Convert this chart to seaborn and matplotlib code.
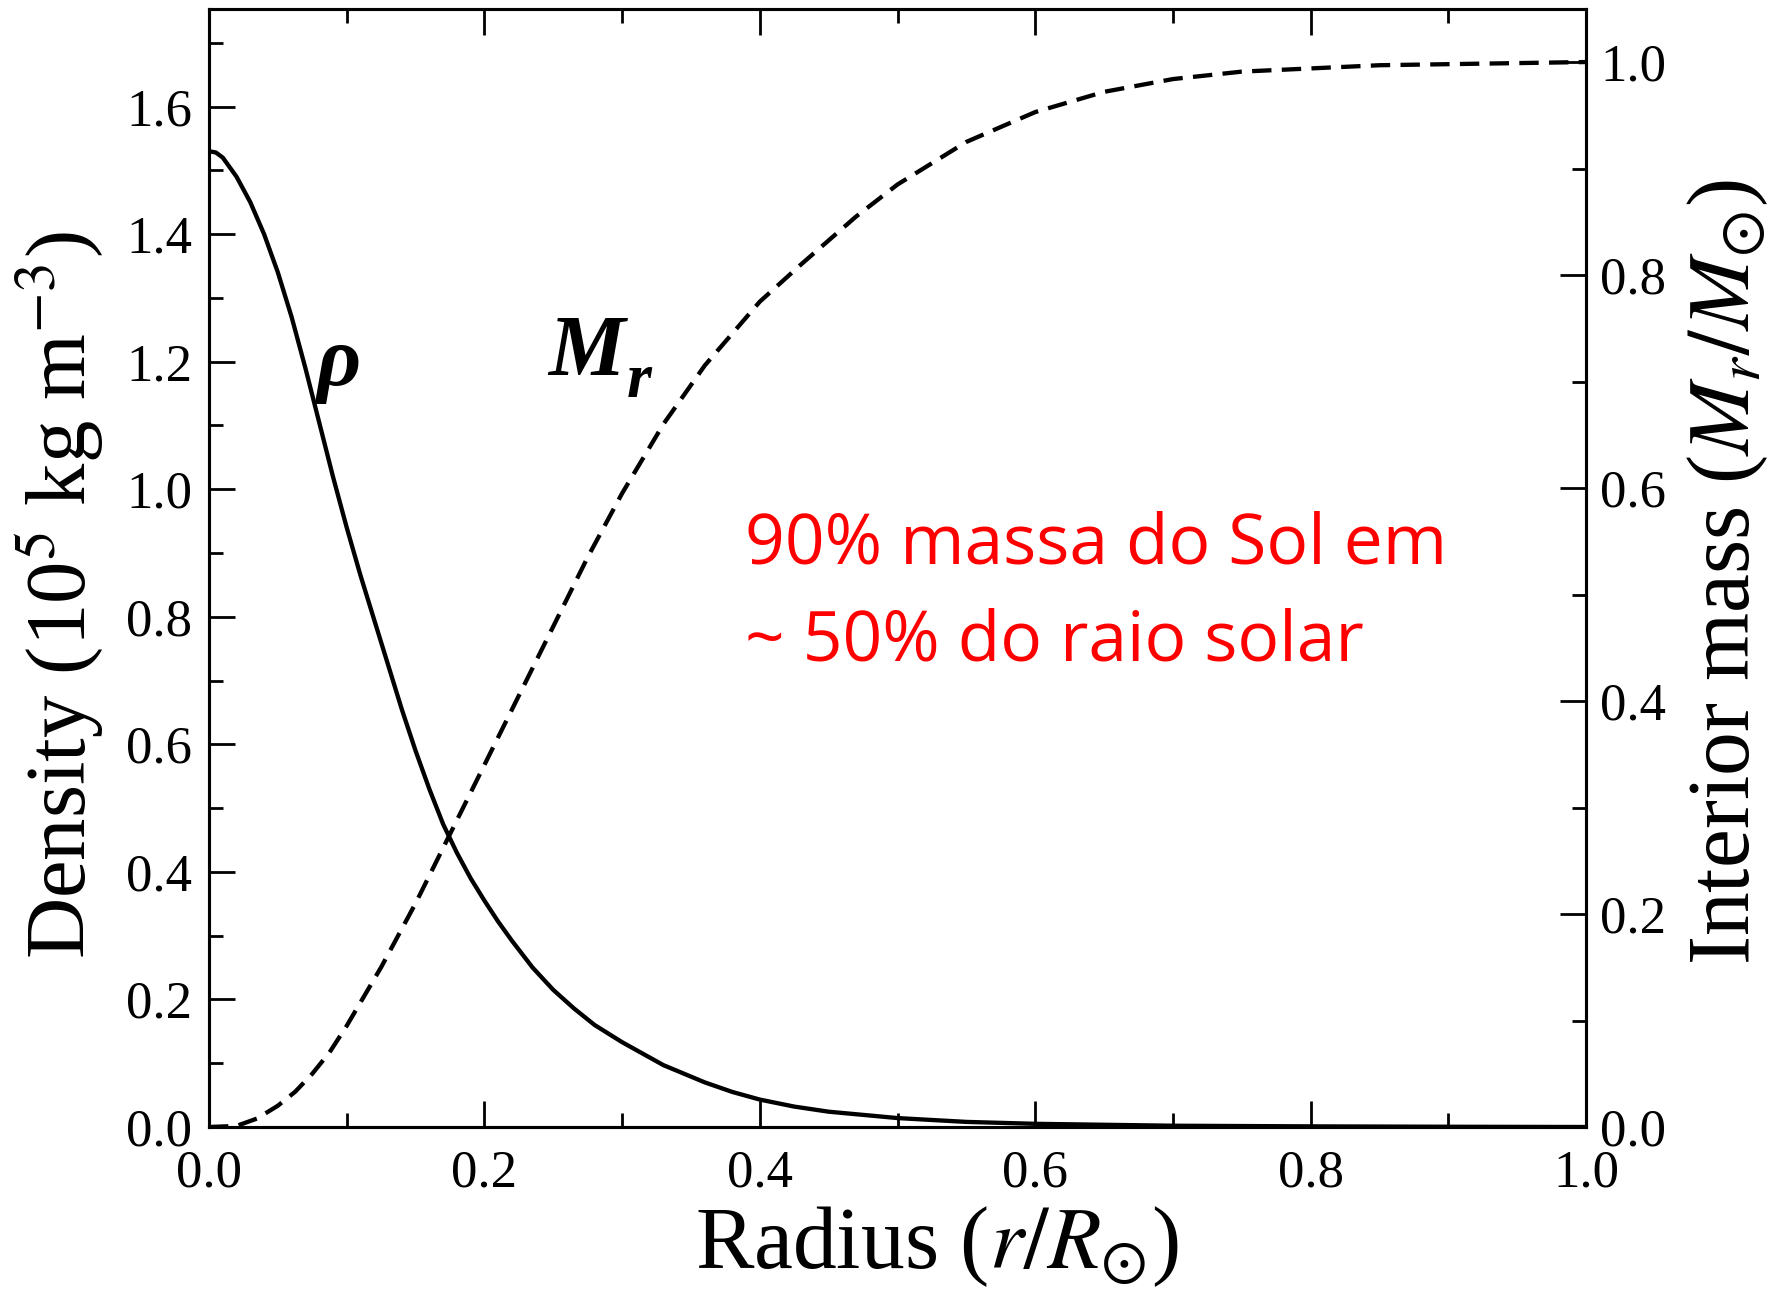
import numpy as np
import pandas as pd
import matplotlib
matplotlib.use("Agg")
import matplotlib.pyplot as plt
import seaborn as sns
from matplotlib.ticker import MultipleLocator, FormatStrFormatter

# ---- data ----
radius_rho = [0.0, 0.005, 0.01, 0.02, 0.03, 0.04, 0.05, 0.06, 0.07, 0.08, 0.09,
              0.10, 0.11, 0.12, 0.13, 0.14, 0.15, 0.16, 0.17, 0.18, 0.19, 0.20,
              0.21, 0.22, 0.235, 0.25, 0.265, 0.28, 0.30, 0.33, 0.36, 0.38,
              0.40, 0.425, 0.45, 0.50, 0.55, 0.60, 0.70, 0.80, 0.90, 1.00]
density = [1.53, 1.528, 1.52, 1.49, 1.45, 1.40, 1.34, 1.27, 1.19, 1.105, 1.02,
           0.94, 0.865, 0.795, 0.725, 0.655, 0.59, 0.53, 0.475, 0.43, 0.39, 0.355,
           0.322, 0.292, 0.25, 0.215, 0.186, 0.16, 0.133, 0.097, 0.07, 0.055,
           0.043, 0.032, 0.024, 0.014, 0.008, 0.005, 0.002, 0.001, 0.0004, 0.0]

radius_m = [0.0, 0.02, 0.035, 0.05, 0.0625, 0.075, 0.0875, 0.10, 0.125, 0.15,
            0.175, 0.20, 0.225, 0.25, 0.275, 0.30, 0.33, 0.36, 0.40, 0.43, 0.47,
            0.50, 0.55, 0.60, 0.65, 0.70, 0.75, 0.85, 1.00]
mass = [0.0, 0.001, 0.008, 0.02, 0.033, 0.05, 0.07, 0.095, 0.15, 0.21,
        0.275, 0.34, 0.405, 0.47, 0.535, 0.595, 0.66, 0.715, 0.775, 0.81, 0.855,
        0.885, 0.925, 0.953, 0.972, 0.984, 0.991, 0.997, 1.0]

left_ticks = [0.0, 0.2, 0.4, 0.6, 0.8, 1.0, 1.2, 1.4, 1.6]
right_ticks = [0.0, 0.2, 0.4, 0.6, 0.8, 1.0]
x_ticks = [0.0, 0.2, 0.4, 0.6, 0.8, 1.0]

annotation_lines = ["90% massa do Sol em", "~ 50% do raio solar"]

# ---- style ----
sns.set_theme(style="ticks")
plt.rcParams["font.family"] = ["Liberation Serif", "DejaVu Serif"]
plt.rcParams["mathtext.fontset"] = "stix"
plt.rcParams["text.color"] = "black"
plt.rcParams["axes.labelcolor"] = "black"
plt.rcParams["xtick.color"] = "black"
plt.rcParams["ytick.color"] = "black"

W, H = 1777, 1289
fig = plt.figure(figsize=(W / 100, H / 100), dpi=100)
ax_l, ax_r, ax_b, ax_t = 209, 1586, 1127, 9
ax = fig.add_axes([ax_l / W, 1 - ax_b / H, (ax_r - ax_l) / W, (ax_b - ax_t) / H])
ax2 = ax.twinx()

df_rho = pd.DataFrame({"r": radius_rho, "rho": density})
df_m = pd.DataFrame({"r": radius_m, "m": mass})

sns.lineplot(data=df_rho, x="r", y="rho", ax=ax, color="black", lw=3.1,
             sort=False, estimator=None)
sns.lineplot(data=df_m, x="r", y="m", ax=ax2, color="black", lw=3.1,
             sort=False, estimator=None, linestyle="--", dashes=False)
ax2.lines[0].set_dashes((4.5, 2.4))

ax.set_xlim(0, 1.0)
ax.set_ylim(0, 1.753)
ax2.set_ylim(0, 1.0498)

spine_w = 2.2
for a in (ax, ax2):
    for s in a.spines.values():
        s.set_linewidth(spine_w)
        s.set_color("black")

ax.set_xticks(x_ticks)
ax.set_yticks(left_ticks)
ax2.set_yticks(right_ticks)
ax.xaxis.set_minor_locator(MultipleLocator(0.1))
ax.yaxis.set_minor_locator(MultipleLocator(0.1))
ax2.yaxis.set_minor_locator(MultipleLocator(0.1))
fmt = FormatStrFormatter("%.1f")
ax.xaxis.set_major_formatter(fmt)
ax.yaxis.set_major_formatter(fmt)
ax2.yaxis.set_major_formatter(fmt)

tick_fs = 38
ax.tick_params(axis="x", which="both", direction="in", top=True, bottom=True,
               labelsize=tick_fs, pad=16, width=2.0, colors="black")
ax.tick_params(axis="y", which="both", direction="in", left=True, right=False,
               labelsize=tick_fs, pad=12, width=2.0, colors="black")
ax.tick_params(which="major", length=19)
ax.tick_params(which="minor", length=10)
ax2.tick_params(axis="y", which="both", direction="in", right=True, left=False,
                labelsize=tick_fs, pad=10, width=2.0, colors="black")
ax2.tick_params(which="major", length=19)
ax2.tick_params(which="minor", length=10)

ax.set_xlabel(r"Radius ($r/R_{\odot}$)", fontsize=63, color="black")
ax.set_ylabel(r"Density (10$^5$ kg m$^{-3}$)", fontsize=61, color="black")
ax2.set_ylabel(r"Interior mass ($M_r/M_{\odot}$)", fontsize=63, color="black")

ax.xaxis.set_label_coords((937 - ax_l) / (ax_r - ax_l), -(1268 - ax_b) / (ax_b - ax_t))
ax.xaxis.label.set_va("baseline")
ax.yaxis.set_label_coords((59 - ax_l) / (ax_r - ax_l), (ax_b - 595) / (ax_b - ax_t))
ax.yaxis.label.set_va("center")
ax2.yaxis.set_label_coords((1728 - ax_l) / (ax_r - ax_l), (ax_b - 572) / (ax_b - ax_t))
ax2.yaxis.label.set_va("center")
ax2.yaxis.label.set_rotation(90)

# curve labels
ax.text(0.078, 1.163, "ρ", fontsize=62, fontstyle="italic", fontweight="bold",
        ha="left", va="baseline", color="black")
ax.text(0.246, 1.179, "M", fontsize=62, fontstyle="italic", fontweight="bold",
        ha="left", va="baseline", color="black")
ax.text(0.3035, 1.145, "r", fontsize=46, fontstyle="italic", fontweight="bold",
        ha="left", va="baseline", color="black")

# red annotation
red_fs = 50
ax.text(0.389, 0.884, annotation_lines[0], color="#ff0000", fontsize=red_fs,
        family="Open Sans", ha="left", va="baseline")
ax.text(0.389, 0.732, annotation_lines[1], color="#ff0000", fontsize=red_fs,
        family="Open Sans", ha="left", va="baseline")

fig.savefig("out.png", dpi=100, facecolor="white")
